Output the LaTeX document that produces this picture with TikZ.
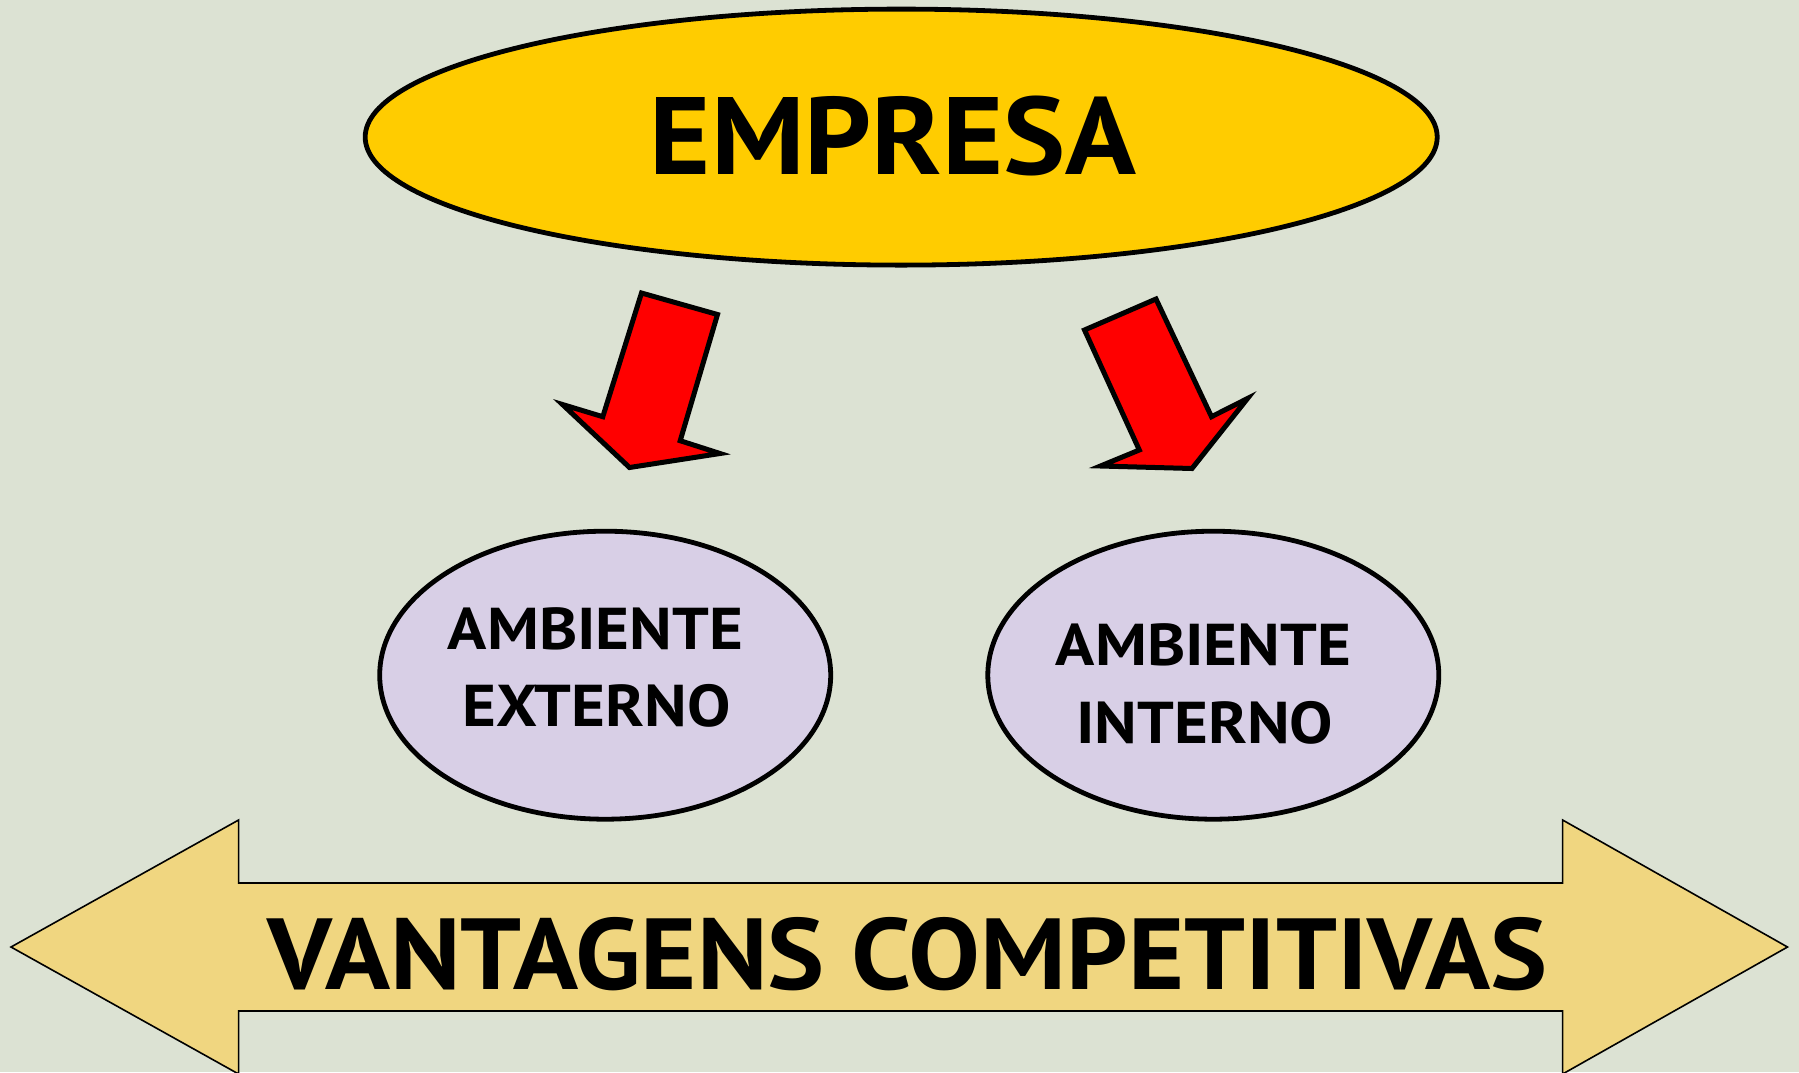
\documentclass[tikz,border=0pt]{standalone}
\usepackage{fontspec}
\setmainfont{PT Sans}
\usetikzlibrary{shapes.geometric}
\definecolor{bgc}{RGB}{220,226,211}
\definecolor{empc}{RGB}{255,204,0}
\definecolor{ambc}{RGB}{216,207,230}
\definecolor{vantc}{RGB}{240,214,128}
\definecolor{redc}{RGB}{255,0,0}
\newcommand{\wideA}[1]{\scalebox{1.065}[1]{#1}}
\newcommand{\wideB}[1]{\scalebox{1.10}[1]{#1}}
\tikzset{
  oval/.style={ellipse, draw=black, line width=4.8pt, inner sep=0pt},
  redarrow/.style={fill=redc, draw=black, line width=5pt, line join=miter},
  bigtxt/.style={anchor=base, inner sep=0pt, font=\fontsize{110}{120}\selectfont\bfseries},
  ambtxt/.style={anchor=base, inner sep=0pt, font=\fontsize{59}{64}\selectfont\bfseries},
  vanttxt/.style={anchor=base, inner sep=0pt, font=\fontsize{101}{110}\selectfont\bfseries}
}
\begin{document}
\begin{tikzpicture}[x=1pt,y=-1pt]
\useasboundingbox (0,0) rectangle (1799,1072);
\fill[bgc] (0,0) rectangle (1799,1072);
% top ellipse
\node[oval, fill=empc, minimum width=1072pt, minimum height=256pt] (emp) at (901.2,137.1) {};
\node[bigtxt] (emptxt) at (893.2,174.4) {\wideA{EMPRESA}};
% red arrows
\draw[redarrow] (641.5,293) coordinate (la1) -- (717.5,314.5) -- (680.2,440.7) -- (720,453.5) -- (629.5,467.5) -- (562.5,404.5) -- (602.8,416.7) -- cycle;
\draw[redarrow] (1084.5,330) coordinate (ra1) -- (1156,299) -- (1211.5,416.7) -- (1247.5,398.5) -- (1192,468.5) -- (1100.5,466) -- (1139.3,450) -- cycle;
% lower ellipses
\node[oval, fill=ambc, minimum width=451pt, minimum height=288pt] (ext) at (605.2,675.2) {};
\node[oval, fill=ambc, minimum width=451pt, minimum height=288pt] (int) at (1213.3,675.2) {};
\node[ambtxt] (ext1) at (595.5,649.4) {\wideB{AMBIENTE}};
\node[ambtxt] (ext2) at (596.6,726.2) {\wideB{EXTERNO}};
\node[ambtxt] (int1) at (1203.5,665.4) {\wideB{AMBIENTE}};
\node[ambtxt] (int2) at (1204.7,743.5) {\wideB{INTERNO}};
% bottom double arrow
\begin{scope}
\clip (0,0) rectangle (1799,1072);
\draw[fill=vantc, draw=black, line width=1.6pt, line join=miter]
  (11,947) -- (238.6,820) -- (238.6,883) -- (1562.6,883) -- (1562.6,820) -- (1787.5,947)
  -- (1562.6,1074) -- (1562.6,1011) -- (238.6,1011) -- (238.6,1074) -- cycle;
\end{scope}
\node[vanttxt] (vant) at (907.5,989) {\wideA{VANTAGENS COMPETITIVAS}};
\end{tikzpicture}
\end{document}
